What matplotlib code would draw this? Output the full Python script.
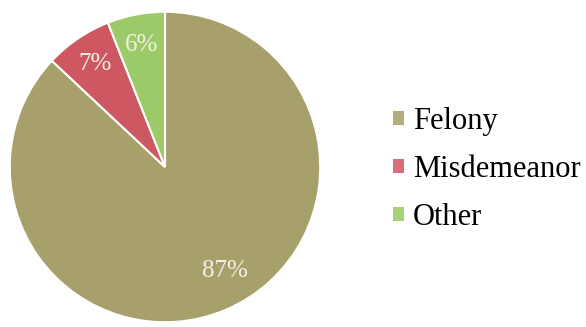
import numpy as np
import matplotlib.pyplot as plt
from matplotlib.patches import Patch

labels = ["Felony", "Misdemeanor", "Other"]
shares = [87, 7, 6]
colors = ["#A8A06A", "#CD5862", "#9DCA68"]
legend_colors = ["#B3AC7C", "#D96E78", "#A8D27A"]

plt.rcParams["font.family"] = ["Liberation Serif", "DejaVu Serif"]

fig = plt.figure(figsize=(5.86, 3.27), dpi=100)
ax = fig.add_axes([9 / 586, 4 / 327, 312 / 586, 312 / 327])

wedges, texts, pcts = ax.pie(
    shares,
    colors=colors,
    startangle=90,
    counterclock=False,
    autopct="%d%%",
    pctdistance=0.8,
    wedgeprops=dict(edgecolor="white", linewidth=1.5),
    textprops=dict(color="#F3F1E6", fontsize=18),
)
# big slice label sits a little off its bisector, lower right
ang = np.deg2rad(-60)
pcts[0].set_position((0.77 * np.cos(ang), 0.77 * np.sin(ang)))

ax.set_xlim(-1.005, 1.005)
ax.set_ylim(-1.005, 1.005)
ax.set_aspect("equal")

handles = [Patch(facecolor=c, edgecolor="none") for c in legend_colors]
fig.legend(
    handles, labels,
    loc="center left",
    bbox_to_anchor=(393 / 586, 0.482),
    frameon=False,
    fontsize=22,
    handlelength=0.36,
    handleheight=0.36,
    handletextpad=0.3,
    labelspacing=0.62,
    borderpad=0,
    borderaxespad=0,
)

fig.savefig("out.png", dpi=100, facecolor="white")
